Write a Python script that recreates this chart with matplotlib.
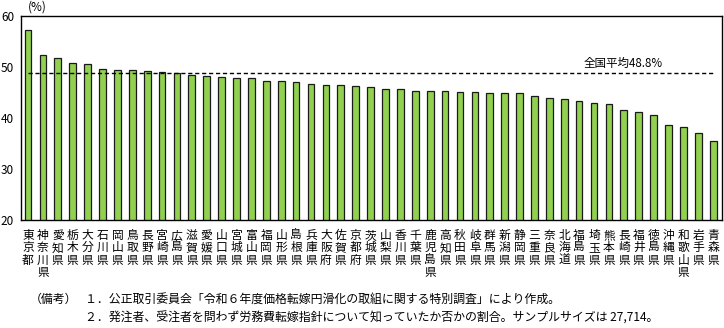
import matplotlib
matplotlib.use("Agg")
import matplotlib.pyplot as plt

plt.rcParams['font.family'] = ['Noto Sans CJK JP', 'DejaVu Sans']

prefs = ["東京都", "神奈川県", "愛知県", "栃木県", "大分県", "石川県", "岡山県", "鳥取県",
         "長野県", "宮崎県", "広島県", "滋賀県", "愛媛県", "山口県", "宮城県", "富山県",
         "福岡県", "山形県", "島根県", "兵庫県", "大阪府", "佐賀県", "京都府", "茨城県",
         "山梨県", "香川県", "千葉県", "鹿児島県", "高知県", "秋田県", "岐阜県", "群馬県",
         "新潟県", "静岡県", "三重県", "奈良県", "北海道", "福島県", "埼玉県", "熊本県",
         "長崎県", "福井県", "徳島県", "沖縄県", "和歌山県", "岩手県", "青森県"]
values = [57.3, 52.4, 51.8, 50.8, 50.6, 49.7, 49.5, 49.4,
          49.2, 49.0, 48.8, 48.5, 48.2, 48.0, 47.9, 47.9,
          47.3, 47.3, 47.1, 46.7, 46.5, 46.5, 46.4, 46.1,
          45.7, 45.7, 45.4, 45.4, 45.4, 45.1, 45.1, 45.0,
          45.0, 45.0, 44.3, 43.9, 43.7, 43.3, 42.9, 42.7,
          41.7, 41.3, 40.7, 38.6, 38.2, 37.2, 35.5]
national_avg = 48.8
yticks = [20, 30, 40, 50, 60]

fig = plt.figure(figsize=(7.24, 3.28), dpi=100)
ax = fig.add_axes([0.029, 0.328, 0.968, 0.623])

x = list(range(len(prefs)))
ax.bar(x, values, width=0.45, color="#92D050", edgecolor="#1a1a1a", linewidth=0.9, zorder=2)
ax.plot([x[0], x[-1]], [national_avg, national_avg], color="black", linestyle=(0, (3, 2)),
        linewidth=1.0, zorder=3)
ax.text(x[-1] - 3.4, national_avg + 0.7, "全国平均48.8%", ha="right", va="bottom", fontsize=8.3)

ax.set_ylim(20, 60)
ax.set_xlim(-0.47, len(prefs) - 0.42)
ax.set_yticks(yticks)
ax.set_yticklabels([str(v) for v in yticks], fontsize=8.5)
ax.set_xticks(x)
ax.set_xticklabels(["\n".join(p) for p in prefs], fontsize=8.5, linespacing=0.95)
ax.tick_params(axis="x", length=0, pad=6)
ax.tick_params(axis="y", length=0, pad=5)
for s in ax.spines.values():
    s.set_linewidth(1.0)
    s.set_color("black")

fig.text(0.039, 0.978, "(%)", fontsize=8.5, ha="left", va="center")

fig.text(0.041, 0.088, "（備考）", fontsize=8.6, ha="left", va="center")
fig.text(0.117, 0.088, "１．公正取引委員会「令和６年度価格転嫁円滑化の取組に関する特別調査」により作成。",
         fontsize=8.6, ha="left", va="center")
fig.text(0.117, 0.030, "２．発注者、受注者を問わず労務費転嫁指針について知っていたか否かの割合。サンプルサイズは 27,714。",
         fontsize=8.6, ha="left", va="center")

fig.savefig("out.png", dpi=100)
